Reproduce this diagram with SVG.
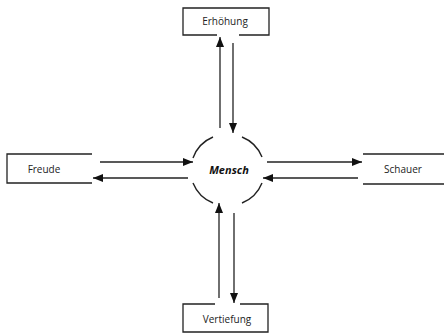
<svg xmlns="http://www.w3.org/2000/svg" width="444" height="333" viewBox="0 0 444 333">
<style>
.ln{stroke:#222;stroke-width:1.3;fill:none}
.arc{stroke:#222;stroke-width:1.4;fill:none}
.t{font-family:"Open Sans","Liberation Sans",sans-serif;font-size:10px;fill:#222;text-anchor:middle}
.m{font-family:"Open Sans","Liberation Sans",sans-serif;font-size:11px;font-weight:bold;font-style:italic;fill:#111;text-anchor:middle}
</style>
<defs>
<marker id="ah" viewBox="0 0 10 8" refX="10" refY="4" markerWidth="10" markerHeight="8" markerUnits="userSpaceOnUse" orient="auto">
<path d="M0,0 L10,4 L0,8 Z" fill="#111"/>
</marker>
</defs>
<rect width="444" height="333" fill="#fff"/>
<g id="mensch">
<path class="arc" d="M193,158 A36,36 0 0 1 213,137"/>
<path class="arc" d="M242,137 A36,36 0 0 1 262,157"/>
<path class="arc" d="M262,183 A36,36 0 0 1 242,203"/>
<path class="arc" d="M213,203 A36,36 0 0 1 193,183"/>
<text class="m" x="229" y="174">Mensch</text>
</g>
<g id="erhoehung">
<path class="ln" d="M217,35 H183 V8 H269 V35 H239"/>
<text class="t" x="225" y="25">Erhöhung</text>
</g>
<g id="vertiefung">
<path class="ln" d="M215,304 H183 V332 H268 V304 H240"/>
<text class="t" x="227" y="323">Vertiefung</text>
</g>
<g id="freude">
<path class="ln" d="M92,154 H7 V183 H92"/>
<text class="t" x="44" y="173">Freude</text>
</g>
<g id="schauer">
<path class="ln" d="M363,154 H444 M363,184 H444"/>
<text class="t" x="403" y="173">Schauer</text>
</g>
<g id="connectors">
<line class="ln" x1="220" y1="128" x2="220" y2="37" marker-end="url(#ah)"/>
<line class="ln" x1="233" y1="43" x2="233" y2="133" marker-end="url(#ah)"/>
<line class="ln" x1="219" y1="298" x2="219" y2="203" marker-end="url(#ah)"/>
<line class="ln" x1="234" y1="213" x2="234" y2="303" marker-end="url(#ah)"/>
<line class="ln" x1="100" y1="162" x2="193" y2="162" marker-end="url(#ah)"/>
<line class="ln" x1="188" y1="178" x2="93" y2="178" marker-end="url(#ah)"/>
<line class="ln" x1="267" y1="162" x2="362" y2="162" marker-end="url(#ah)"/>
<line class="ln" x1="358" y1="178" x2="263" y2="178" marker-end="url(#ah)"/>
</g>
</svg>
